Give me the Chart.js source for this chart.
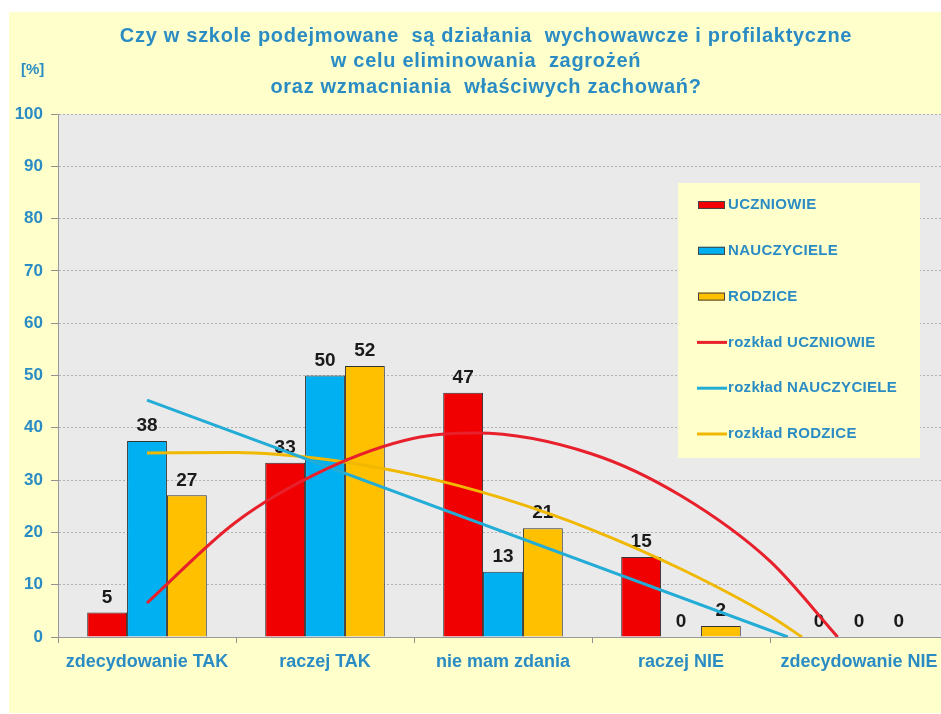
<!DOCTYPE html>
<html lang="pl">
<head>
<meta charset="utf-8">
<title>Działania wychowawcze i profilaktyczne</title>
<script src="https://cdn.jsdelivr.net/npm/chart.js@4/dist/chart.umd.min.js"></script>
<style>
    html, body { margin: 0; padding: 0; background: #fff; overflow: hidden; }
    #wrap { position: absolute; left: 0; top: 0; width: 950px; height: 714px; }
</style>
</head>
<body>
<div id="wrap"><canvas id="chart" width="950" height="714"></canvas></div>
<script>
// ──────────────────────────────────────────────
// Dane
// ──────────────────────────────────────────────
const categories = ['zdecydowanie TAK', 'raczej TAK', 'nie mam zdania', 'raczej NIE', 'zdecydowanie NIE'];

const uczniowie   = [4.7, 33.3, 46.7, 15.3, 0];
const nauczyciele = [37.5, 50, 12.5, 0, 0];
const rodzice     = [27.1, 51.8, 20.8, 2.1, 0];

// linie trendu (x = indeks kategorii)
const trendUczniowieX   = [0, 0.5, 1, 1.5, 1.85, 2.5, 3, 3.5, 3.88];
const trendUczniowieY   = [6.5, 22, 32, 38, 39, 35, 27, 14.5, 0];
const trendNauczycieleX = [0, 3.6];
const trendNauczycieleY = [45.3, 0];
const trendRodziceX     = [0, 0.5, 1, 1.5, 2, 2.5, 3, 3.5, 3.68];
const trendRodziceY     = [35.2, 35.3, 34, 31, 26.5, 20.5, 13, 4, 0];

const yTicks = [0, 10, 20, 30, 40, 50, 60, 70, 80, 90, 100];

const titleLines = [
    'Czy w szkole podejmowane  są działania  wychowawcze i profilaktyczne',
    'w celu eliminowania  zagrożeń',
    'oraz wzmacniania  właściwych zachowań?'
];

const BLUE_TEXT = '#2b8cc4';
const FONT = 'Arial, "Liberation Sans", sans-serif';

function points(xs, ys) {
    return xs.map((x, i) => ({ x, y: ys[i] }));
}

// słupki na tej samej osi liczbowej co linie trendu (x = indeks kategorii)
function barPoints(values) {
    return values.map((v, i) => ({ x: i, y: v }));
}

// ──────────────────────────────────────────────
// Tło, tytuł, etykiety wartości, legenda
// ──────────────────────────────────────────────
const backgroundPlugin = {
    id: 'background',
    beforeDraw(chart) {
        const { ctx, chartArea: a } = chart;
        ctx.save();
        ctx.fillStyle = '#ffffff';
        ctx.fillRect(0, 0, chart.width, chart.height);
        ctx.fillStyle = '#ffffcc';
        ctx.fillRect(9, 12, chart.width - 9, 701);
        ctx.fillStyle = '#eaeaea';
        ctx.fillRect(a.left, a.top, a.right - a.left, a.bottom - a.top);
        ctx.restore();
    }
};

const valueLabelsPlugin = {
    id: 'valueLabels',
    afterDatasetDraw(chart, args) {
        const meta = args.meta;
        if (meta.type !== 'bar') return;
        const ds = chart.data.datasets[args.index];
        const ctx = chart.ctx;
        ctx.save();
        ctx.font = 'bold 19px ' + FONT;
        ctx.fillStyle = '#1a1a1a';
        ctx.textAlign = 'center';
        ctx.textBaseline = 'middle';
        meta.data.forEach((bar, i) => {
            ctx.fillText(String(Math.round(ds.data[i].y)), bar.x, bar.y - 15);
        });
        ctx.restore();
    }
};

const textPlugin = {
    id: 'texts',
    afterDraw(chart) {
        const ctx = chart.ctx;
        ctx.save();

        // tytuł
        ctx.font = 'bold 20px ' + FONT;
        ctx.letterSpacing = '0.7px';
        ctx.fillStyle = BLUE_TEXT;
        ctx.textAlign = 'center';
        ctx.textBaseline = 'middle';
        titleLines.forEach((line, i) => ctx.fillText(line, 486, 36 + i * 25.5));

        // jednostka osi Y
        ctx.letterSpacing = '0px';
        ctx.textAlign = 'left';
        ctx.font = 'bold 15px ' + FONT;
        ctx.fillText('[%]', 21, 70);

        // legenda
        ctx.fillStyle = '#ffffcc';
        ctx.fillRect(678, 183, 242, 275);
        ctx.font = 'bold 15px ' + FONT;
        ctx.letterSpacing = '0.3px';
        chart.data.datasets.forEach((ds, i) => {
            const y = 205 + i * 45.8;
            if (ds.type === 'line') {
                ctx.strokeStyle = ds.borderColor;
                ctx.lineWidth = 3;
                ctx.beginPath();
                ctx.moveTo(697, y);
                ctx.lineTo(727, y);
                ctx.stroke();
            } else {
                ctx.fillStyle = ds.backgroundColor;
                ctx.fillRect(698, y - 4, 27, 8);
                ctx.strokeStyle = '#444';
                ctx.lineWidth = 1;
                ctx.strokeRect(698.5, y - 3.5, 26, 7);
            }
            ctx.fillStyle = BLUE_TEXT;
            ctx.fillText(ds.label, 728, y);
        });
        ctx.restore();
    }
};

// ──────────────────────────────────────────────
// Wykres
// ──────────────────────────────────────────────
function barSet(label, data, color) {
    return {
        type: 'bar', label, data: barPoints(data),
        backgroundColor: color, borderColor: '#333333', borderWidth: 1,
        barPercentage: 1, categoryPercentage: 0.672, order: 1
    };
}

function trendSet(label, data, color) {
    return {
        type: 'line', label, data,
        borderColor: color, borderWidth: 3, pointRadius: 0,
        cubicInterpolationMode: 'monotone', fill: false, order: 0
    };
}

new Chart(document.getElementById('chart'), {
    data: {
        datasets: [
            barSet('UCZNIOWIE', uczniowie, '#f00000'),
            barSet('NAUCZYCIELE', nauczyciele, '#00b0f0'),
            barSet('RODZICE', rodzice, '#ffc000'),
            trendSet('rozkład UCZNIOWIE', points(trendUczniowieX, trendUczniowieY), '#e8202c'),
            trendSet('rozkład NAUCZYCIELE', points(trendNauczycieleX, trendNauczycieleY), '#22acd6'),
            trendSet('rozkład RODZICE', points(trendRodziceX, trendRodziceY), '#f0b800')
        ]
    },
    options: {
        responsive: false,
        animation: false,
        layout: { padding: { left: 0, right: 2, top: 114, bottom: 0 } },
        plugins: {
            legend: { display: false },
            tooltip: { enabled: false },
            title: { display: false }
        },
        scales: {
            x: {
                type: 'linear',
                min: -0.5, max: 4.5,
                offset: false,
                afterBuildTicks: s => { s.ticks = categories.map((_, i) => ({ value: i })); },
                grid: { offset: true, drawOnChartArea: false, drawTicks: true, tickLength: 6, tickColor: '#909090' },
                border: { color: '#9a9a9a' },
                ticks: {
                    color: BLUE_TEXT, padding: 8, maxRotation: 0, autoSkip: false,
                    font: { family: FONT, size: 18, weight: 'bold' },
                    callback: v => categories[v]
                },
                afterFit: s => { s.height = 77; }
            },
            y: {
                min: 0, max: 100,
                afterBuildTicks: s => { s.ticks = yTicks.map(v => ({ value: v })); },
                grid: { color: 'rgba(120,120,120,0.5)', tickColor: '#909090', tickLength: 7, tickBorderDash: [] },
                border: { color: '#9a9a9a', dash: [2, 2] },
                ticks: {
                    color: BLUE_TEXT, padding: 8,
                    font: { family: FONT, size: 17, weight: 'bold' }
                },
                afterFit: s => { s.width = 58; }
            }
        }
    },
    plugins: [backgroundPlugin, valueLabelsPlugin, textPlugin]
});
</script>
</body>
</html>
